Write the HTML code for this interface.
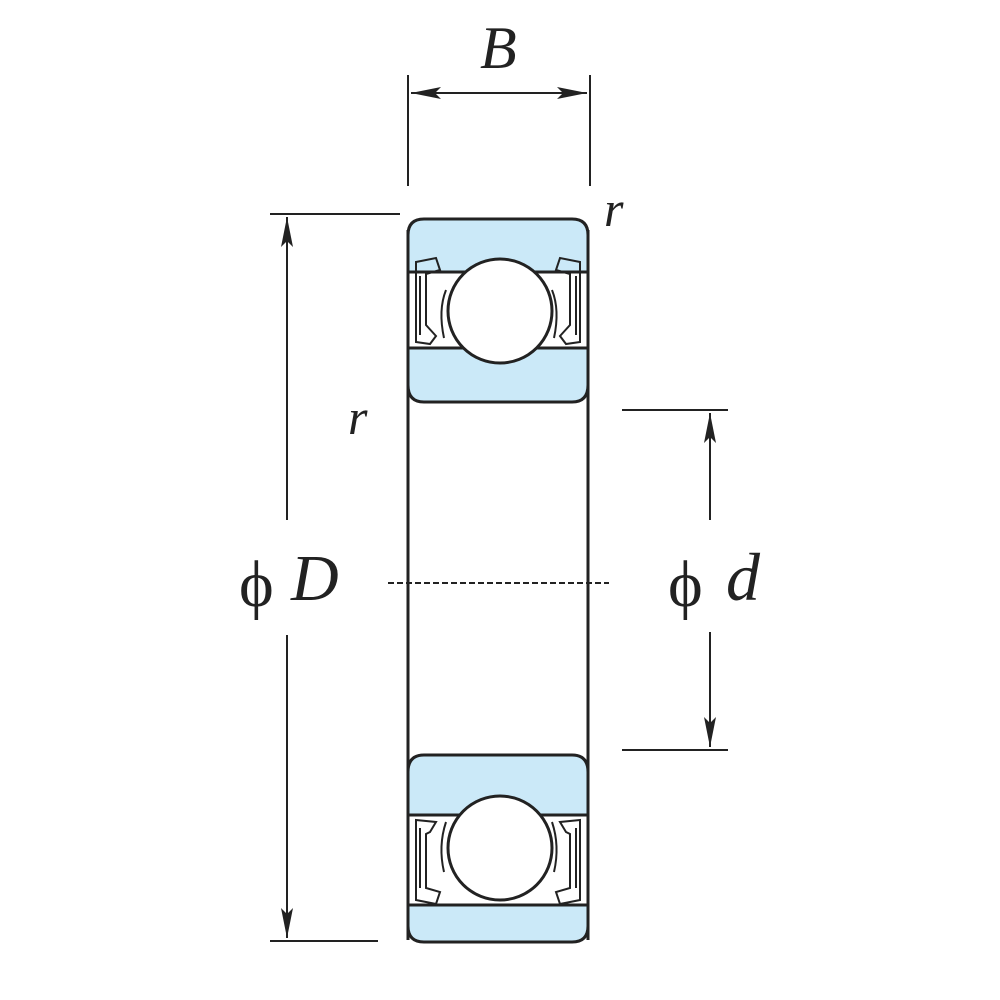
<!DOCTYPE html>
<html><head><style>
html,body{margin:0;padding:0;background:#fff;}
svg{display:block;}
text{font-family:"Liberation Serif",serif;fill:#222;}
</style></head><body>
<svg width="1000" height="1000" viewBox="0 0 1000 1000" xmlns="http://www.w3.org/2000/svg">
<defs>
<marker id="b" viewBox="0 0 30 12" markerWidth="30" markerHeight="12" refX="30" refY="6" orient="auto-start-reverse" markerUnits="userSpaceOnUse">
<path d="M0,0 L30,6 L0,12 L6,6 Z" fill="#222"/>
</marker>
</defs>
<g stroke="#222" stroke-width="2" fill="none">
<line x1="408" y1="75" x2="408" y2="186"/>
<line x1="590" y1="75" x2="590" y2="186"/>
<line x1="411" y1="93" x2="587" y2="93" marker-start="url(#b)" marker-end="url(#b)"/>
<line x1="270" y1="214" x2="400" y2="214"/>
<line x1="270" y1="941" x2="378" y2="941"/>
<line x1="287" y1="217" x2="287" y2="520" marker-start="url(#b)"/>
<line x1="287" y1="635" x2="287" y2="938" marker-end="url(#b)"/>
<line x1="622" y1="410" x2="728" y2="410"/>
<line x1="622" y1="750" x2="728" y2="750"/>
<line x1="710" y1="413" x2="710" y2="520" marker-start="url(#b)"/>
<line x1="710" y1="632" x2="710" y2="747" marker-end="url(#b)"/>
</g>
<line x1="388" y1="583" x2="609" y2="583" stroke="#222" stroke-width="2" stroke-dasharray="6,3"/>

<g stroke="#222" stroke-width="3">
<path d="M408,235 Q408,219 424,219 L572,219 Q588,219 588,235 L588,272 L408,272 Z" fill="#cbe9f8"/>
<path d="M408,348 L588,348 L588,385 Q588,402 572,402 L424,402 Q408,402 408,385 Z" fill="#cbe9f8"/>
<line x1="408" y1="230" x2="408" y2="940" />
<line x1="588" y1="230" x2="588" y2="940" />
<path d="M408,772 Q408,755 424,755 L572,755 Q588,755 588,772 L588,815 L408,815 Z" fill="#cbe9f8"/>
<path d="M408,905 L588,905 L588,926 Q588,942 572,942 L424,942 Q408,942 408,926 Z" fill="#cbe9f8"/>
</g>
<g stroke="#222" stroke-width="2" fill="none">
<path d="M416,262 L436,258 L440,270 L426,274 L426,325 L436,336 L430,344 L416,342 Z"/>
<path d="M420,276 L420,335"/>
<path d="M580,262 L560,258 L556,270 L570,274 L570,325 L560,336 L566,344 L580,342 Z"/>
<path d="M576,276 L576,335"/>
<path d="M446,290 Q438,310 444,338"/>
<path d="M552,290 Q560,310 554,338"/>
<path d="M416,820 L436,822 L430,832 L426,834 L426,888 L440,892 L436,904 L416,900 Z"/>
<path d="M420,828 L420,888"/>
<path d="M580,820 L560,822 L566,832 L570,834 L570,888 L556,892 L560,904 L580,900 Z"/>
<path d="M576,828 L576,888"/>
<path d="M446,822 Q438,846 444,872"/>
<path d="M552,822 Q560,846 554,872"/>
</g>
<circle cx="500" cy="311" r="52" fill="#fff" stroke="#222" stroke-width="3"/>
<circle cx="500" cy="848" r="52" fill="#fff" stroke="#222" stroke-width="3"/>

<text x="480" y="68" font-size="60" font-style="italic">B</text>
<text x="604" y="226" font-size="50" font-style="italic">r</text>
<text x="348" y="434" font-size="50" font-style="italic">r</text>
<text x="239" y="606" font-size="66">ϕ</text>
<text x="291" y="600" font-size="66" font-style="italic">D</text>
<text x="668" y="606" font-size="66">ϕ</text>
<text x="726" y="600" font-size="68" font-style="italic">d</text>
</svg>
</body></html>
